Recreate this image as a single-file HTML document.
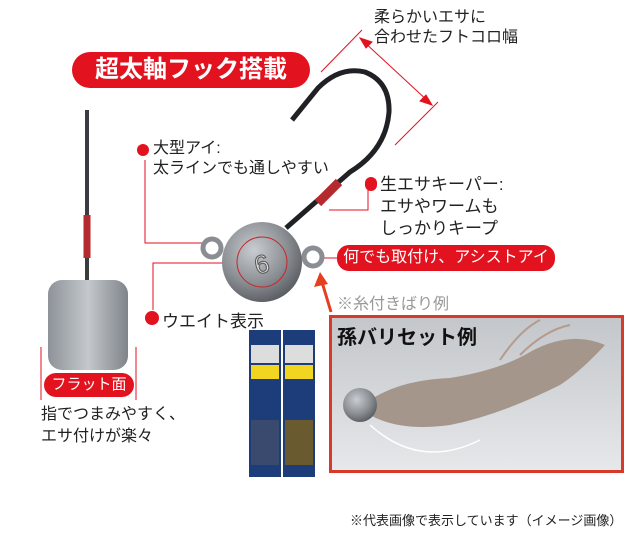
<!DOCTYPE html>
<html><head><meta charset="utf-8"><style>
body{margin:0;width:640px;height:537px;background:#fff;position:relative;overflow:hidden;font-family:"Liberation Sans","Noto Sans CJK JP",sans-serif;color:#222}
.a{position:absolute;white-space:nowrap}
.t{font-size:16px;line-height:20px}
.pill{background:#e3121f;color:#fff;border-radius:12px;text-align:center}
</style></head><body>
<svg class="a" style="left:0;top:0" width="640" height="537">
<defs>
<radialGradient id="g" cx="40%" cy="35%" r="70%"><stop offset="0" stop-color="#c9ccd0"/><stop offset="0.6" stop-color="#8a8e93"/><stop offset="1" stop-color="#55595e"/></radialGradient>
<linearGradient id="w" x1="0" x2="1"><stop offset="0" stop-color="#8e9399"/><stop offset="0.5" stop-color="#c4c8cc"/><stop offset="1" stop-color="#7f848a"/></linearGradient>
<linearGradient id="ph" x1="0" y1="0" x2="0" y2="1"><stop offset="0" stop-color="#c3c6ca"/><stop offset="1" stop-color="#e6e8ea"/></linearGradient>
</defs>
<g stroke="#e3121f" stroke-width="1" fill="#e3121f">
<line x1="321" y1="72" x2="362" y2="30"/>
<line x1="395" y1="145" x2="438" y2="102"/>
<line x1="362" y1="40" x2="430" y2="103"/>
<polygon points="360,38 372,42 366,48"/>
<polygon points="432,105 420,101 426,95"/>
</g>
<path d="M292,120 L318,88 Q340,66 365,72 Q390,82 389,112 Q386,150 350,172 L286,228" fill="none" stroke="#1f2124" stroke-width="5"/>
<path d="M318,88 L300,110" stroke="#1f2124" stroke-width="2"/>
<path d="M339,182 L318,203" stroke="#b52a2e" stroke-width="9"/>
<g stroke="#e3121f" stroke-width="1" fill="none">
<polyline points="145,160 145,243 206,243"/>
<polyline points="153,310 153,263 228,263"/>
<polyline points="329,210 368,210 368,190"/>
<line x1="323" y1="258" x2="338" y2="258"/>
<line x1="41" y1="347" x2="41" y2="400"/>
<line x1="136" y1="347" x2="136" y2="400"/>
</g>
<line x1="331" y1="312" x2="322" y2="282" stroke="#e3401f" stroke-width="3"/>
<polygon points="320,272 314,287 328,284" fill="#e3401f"/>
<circle cx="212" cy="248" r="9" fill="none" stroke="#8a8e93" stroke-width="5"/>
<circle cx="313" cy="257" r="9" fill="none" stroke="#8a8e93" stroke-width="5"/>
<circle cx="262" cy="262" r="40" fill="url(#g)"/>
<circle cx="262" cy="262" r="25" fill="none" stroke="#c8242a" stroke-width="1"/>
<text x="254" y="273" font-size="26" fill="#ddd" stroke="#555" stroke-width="1" font-family="Liberation Sans" transform="rotate(-15 262 262)">6</text>
<line x1="87" y1="110" x2="87" y2="290" stroke="#3a3c40" stroke-width="4"/>
<line x1="87" y1="215" x2="87" y2="258" stroke="#b52a2e" stroke-width="7"/>
<rect x="48" y="280" width="80" height="90" rx="14" fill="url(#w)"/>
<rect x="249" y="330" width="32" height="147" fill="#1d3c7a"/>
<rect x="283" y="330" width="32" height="147" fill="#1d3c7a"/>
<rect x="251" y="345" width="28" height="18" fill="#ddd"/><rect x="285" y="345" width="28" height="18" fill="#ddd"/>
<rect x="251" y="365" width="28" height="14" fill="#f1d520"/><rect x="285" y="365" width="28" height="14" fill="#f1d520"/>
<rect x="251" y="420" width="28" height="45" fill="#3a4a6e"/><rect x="285" y="420" width="28" height="45" fill="#6a5a30"/>
<rect x="330.5" y="316.5" width="292" height="155" fill="url(#ph)" stroke="#d83a2a" stroke-width="3"/>
<path d="M370,400 Q400,380 450,378 Q500,370 530,352 Q570,330 605,345 Q580,372 560,385 Q500,415 450,425 Q400,432 370,415 Z" fill="#a5968c"/>
<path d="M500,360 Q520,330 540,320 M520,355 Q545,330 570,325" stroke="#b69a8c" stroke-width="2" fill="none"/>
<circle cx="360" cy="405" r="17" fill="url(#g)"/>
<path d="M370,425 Q420,470 480,440" fill="none" stroke="#fff" stroke-width="1.5"/>
</svg>
<div class="a pill" style="left:72px;top:52px;width:238px;height:36px;line-height:36px;font-size:24px;font-weight:bold;border-radius:18px">超太軸フック搭載</div>
<div class="a t" style="left:374px;top:8px">柔らかいエサに<br>合わせたフトコロ幅</div>
<div class="a" style="left:137px;top:144px;width:12px;height:12px;border-radius:6px;background:#e3121f"></div>
<div class="a t" style="left:153px;top:139px">大型アイ:<br>太ラインでも通しやすい</div>
<div class="a" style="left:365px;top:177px;width:12px;height:14px;border-radius:6px;background:#e3121f"></div>
<div class="a" style="left:380px;top:174px;font-size:17px;line-height:22px">生エサキーパー:<br>エサやワームも<br>しっかりキープ</div>
<div class="a pill" style="left:337px;top:245px;width:218px;height:26px;line-height:26px;font-size:16px">何でも取付け、アシストアイ</div>
<div class="a" style="left:337px;top:290px;font-size:16px;color:#999">※糸付きばり例</div>
<div class="a" style="left:145px;top:311px;width:14px;height:14px;border-radius:7px;background:#e3121f"></div>
<div class="a" style="left:162px;top:307px;font-size:17px">ウエイト表示</div>
<div class="a pill" style="left:44px;top:373px;width:90px;height:24px;line-height:24px;font-size:15px">フラット面</div>
<div class="a" style="left:41px;top:404px;font-size:16px;line-height:22px">指でつまみやすく、<br>エサ付けが楽々</div>
<div class="a" style="left:337px;top:321px;font-size:20px;font-weight:bold;color:#111">孫バリセット例</div>
<div class="a" style="left:350px;top:510px;font-size:13px">※代表画像で表示しています（イメージ画像）</div>
</body></html>
